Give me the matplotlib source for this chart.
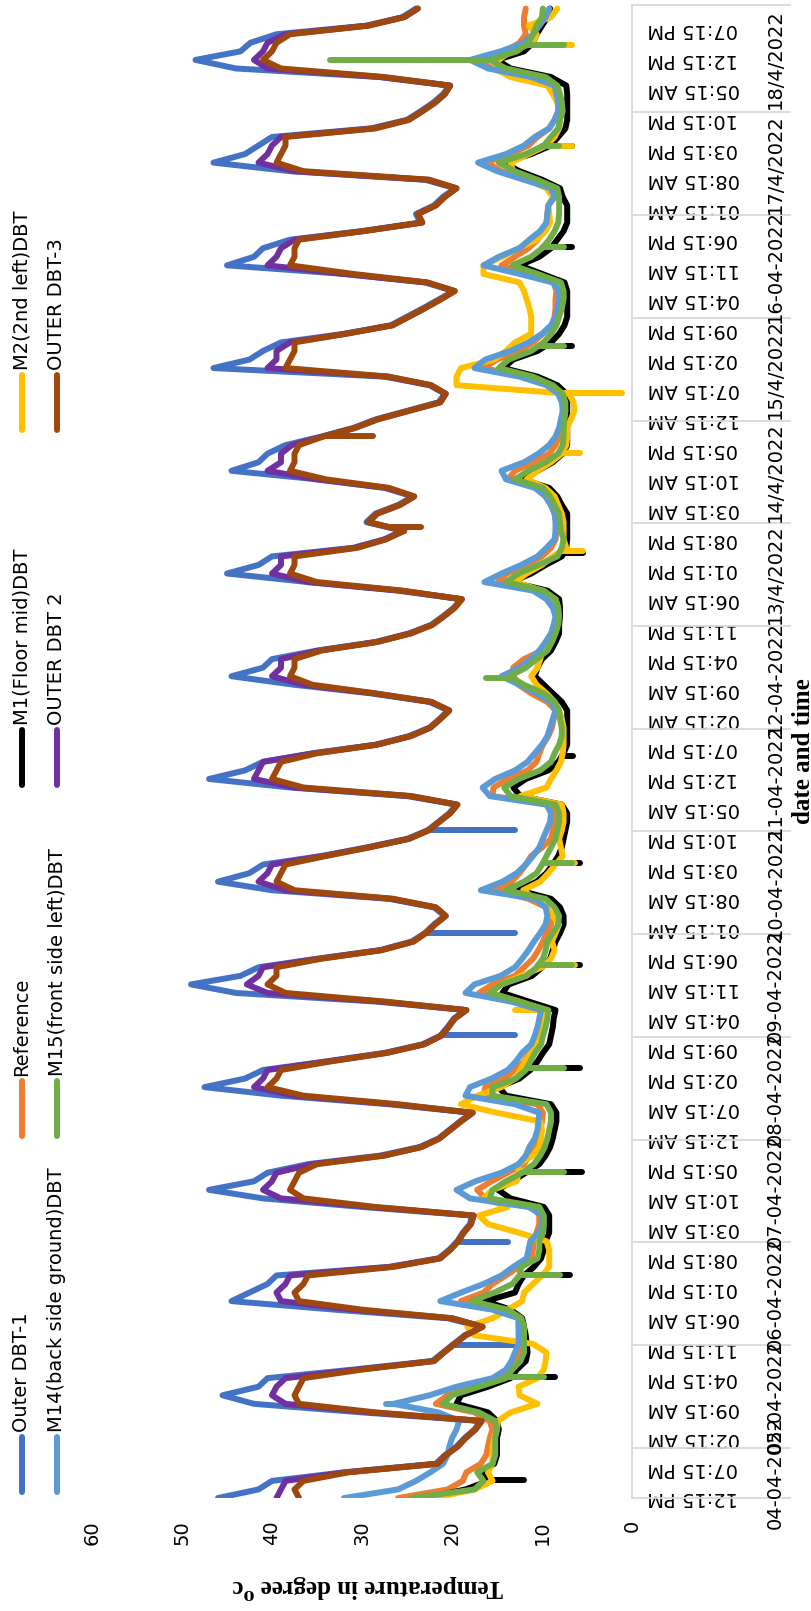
import numpy as np
import pandas as pd
import matplotlib
matplotlib.use('Agg')
from matplotlib import pyplot as plt
from matplotlib import transforms
from matplotlib.lines import Line2D

# readings every 2 hours from 04-04-2022 12:15 PM
times = pd.date_range('2022-04-04 12:15', periods=175, freq='2h')

outer_dbt_1 = [
    46.0, 41.5, 40.0, 32.0, 21.8, 20.8,
    19.5, 18.6, 17.5, 16.8, 30.0, 42.0, 45.5, 41.5, 40.5, 31.0, 22.2, 21.0,
    19.8, 18.6, 16.7, 20.5, 33.0, 44.5, 42.5, 40.5, 39.5, 27.0, 21.5, 20.3,
    19.4, 18.8, 18.0, 17.8, 30.0, 41.0, 47.0, 42.0, 40.5, 36.0, 28.0, 23.6,
    21.5, 20.3, 19.1, 17.8, 27.0, 39.0, 47.5, 43.0, 41.0, 34.0, 27.5, 23.3,
    21.3, 20.5, 19.8, 18.5, 28.5, 44.0, 49.0, 43.5, 41.5, 35.0, 28.0, 24.5,
    23.0, 22.0, 20.8, 22.0, 27.0, 40.0, 46.0, 42.5, 41.0, 34.5, 29.5, 25.0,
    22.7, 21.5, 20.3, 19.5, 25.0, 38.0, 47.0, 43.0, 41.0, 35.5, 28.5, 24.8,
    22.5, 21.4, 20.4, 22.5, 29.0, 37.5, 44.5, 41.0, 40.0, 35.0, 28.5, 24.8,
    22.3, 21.0, 19.8, 19.0, 26.0, 36.0, 45.0, 41.5, 40.0, 31.0, 27.5, 25.5,
    29.5, 28.5, 26.0, 24.3, 27.5, 35.0, 44.5, 41.5, 40.5, 38.5, 34.5, 31.0,
    28.5, 25.0, 21.5, 20.8, 22.5, 27.5, 46.5, 42.5, 41.0, 39.0, 32.0, 26.8,
    25.0, 23.2, 21.5, 19.8, 23.0, 32.0, 45.0, 42.0, 41.0, 38.0, 30.0, 23.5,
    24.0, 22.0, 21.0, 19.6, 23.0, 38.0, 46.5, 43.0, 41.5, 40.0, 29.0, 25.0,
    23.5, 22.1, 21.0, 20.3, 28.0, 44.0, 48.5, 43.5, 42.4, 39.5, 29.5, 25.5,
    24.0]

reference = [
    26.0, 20.5, 18.8, 18.4, 16.8, 16.2,
    16.0, 15.8, 15.5, 15.8, 17.5, 21.8, 20.5, 17.5, 14.5, 13.5, 12.8, 12.6,
    12.6, 12.5, 12.6, 12.6, 14.5, 19.0, 16.5, 15.5, 14.0, 12.6, 11.2, 11.0,
    11.0, 10.6, 10.3, 10.3, 11.0, 16.3, 17.2, 15.6, 13.8, 12.0, 11.4, 11.0,
    10.5, 10.2, 10.0, 9.9, 10.5, 16.5, 16.3, 14.2, 13.0, 12.0, 11.4, 10.8,
    10.4, 10.2, 10.0, 9.9, 12.5, 17.0, 15.5, 13.0, 12.0, 11.0, 10.4, 9.9,
    9.5, 9.0, 9.0, 9.5, 11.5, 15.3, 13.4, 12.5, 11.8, 11.2, 10.0, 9.0,
    8.8, 8.6, 8.6, 9.2, 15.5, 15.4, 13.8, 11.6, 10.6, 10.3, 9.9, 9.3,
    8.9, 8.7, 8.5, 9.4, 11.2, 12.6, 13.2, 13.2, 12.0, 10.0, 9.3, 8.8,
    8.5, 8.4, 8.6, 9.2, 10.5, 14.9, 13.9, 11.8, 10.0, 9.0, 8.5, 8.4,
    8.4, 8.6, 9.0, 9.6, 10.4, 13.8, 13.0, 11.0, 9.2, 8.5, 8.1, 7.9,
    7.8, 7.6, 7.7, 8.1, 9.4, 12.0, 16.5, 15.0, 12.5, 11.0, 9.9, 8.9,
    8.6, 8.5, 8.5, 8.4, 8.7, 11.8, 14.5, 13.0, 11.5, 10.5, 9.8, 9.5,
    9.4, 9.3, 8.6, 9.0, 11.5, 14.5, 16.2, 13.5, 11.5, 10.5, 9.2, 8.6,
    8.2, 8.2, 8.4, 8.7, 11.0, 15.5, 17.3, 14.0, 12.5, 11.8, 12.0, 12.0,
    11.8]

m1_floor_mid = [
    23.0, 18.5, 16.0, 16.8, 15.3, 15.0,
    15.0, 15.0, 14.8, 15.0, 16.0, 19.5, 19.0, 16.0, 13.5, 12.8, 11.8, 11.6,
    11.7, 11.8, 12.0, 12.2, 13.5, 16.3, 13.0, 12.6, 12.0, 10.9, 10.1, 9.8,
    9.6, 9.2, 9.2, 9.2, 9.8, 13.5, 14.9, 13.3, 11.8, 10.3, 9.6, 9.1,
    8.8, 8.6, 8.4, 8.4, 9.0, 14.0, 14.8, 12.5, 11.3, 10.5, 9.9, 9.2,
    9.0, 8.8, 8.7, 8.5, 11.5, 14.4, 13.7, 11.1, 10.0, 9.1, 8.8, 8.5,
    8.0, 7.6, 7.6, 8.0, 9.0, 12.6, 10.6, 9.5, 8.8, 8.2, 7.8, 7.6,
    7.4, 7.2, 7.2, 7.8, 12.4, 13.2, 11.8, 9.3, 8.2, 7.6, 7.2, 7.2,
    7.2, 7.2, 7.2, 7.8, 8.8, 9.8, 10.8, 10.5, 10.0, 9.0, 8.5, 8.1,
    8.1, 8.0, 8.0, 8.1, 9.4, 13.4, 11.2, 9.6, 7.8, 7.3, 7.2, 7.2,
    7.2, 7.2, 7.8, 8.3, 9.2, 12.2, 10.5, 8.8, 7.7, 7.2, 7.2, 7.2,
    7.2, 7.2, 7.2, 7.3, 8.3, 10.5, 14.3, 13.2, 10.5, 9.0, 8.1, 7.5,
    7.2, 7.2, 7.2, 7.2, 7.5, 10.0, 12.5, 10.3, 9.0, 8.3, 7.6, 7.2,
    7.2, 7.2, 7.7, 8.0, 10.0, 12.5, 14.3, 11.2, 9.0, 8.2, 7.4, 7.2,
    7.2, 7.2, 7.2, 7.3, 9.0, 13.5, 15.0, 12.0, 11.0, 10.6, 10.0, 9.4,
    9.1]

m2_2nd_left = [
    22.0, 17.5, 15.5, 16.0, 15.5, 15.5,
    15.5, 15.3, 15.0, 14.9, 13.5, 10.5, 12.5, 12.6, 10.5, 9.8, 9.6, 9.5,
    11.0, 17.5, 18.3, 15.5, 13.8, 12.2, 12.0, 11.0, 10.0, 9.2, 9.2, 9.2,
    9.5, 12.6, 16.0, 17.0, 13.8, 16.5, 15.5, 12.8, 12.6, 12.6, 11.0, 10.3,
    10.1, 10.0, 10.2, 15.0, 19.0, 17.2, 14.5, 13.0, 12.4, 11.9, 11.2, 10.5,
    10.3, 10.0, 9.9, 9.8, 12.5, 15.8, 14.5, 12.3, 10.0, 9.0, 8.6, 8.9,
    8.5, 8.1, 8.8, 9.5, 10.8, 12.1, 10.2, 9.3, 8.5, 7.7, 7.9, 8.1,
    7.8, 7.6, 7.6, 7.8, 12.4, 9.5, 9.0, 8.4, 7.9, 7.7, 7.6, 7.6,
    7.6, 7.8, 8.1, 8.6, 9.5, 10.6, 11.2, 10.5, 10.2, 9.9, 9.3, 8.7,
    8.3, 8.2, 8.2, 8.5, 10.0, 13.0, 11.7, 10.0, 8.8, 7.3, 7.6, 7.6,
    7.6, 7.8, 8.2, 8.6, 9.6, 11.7, 10.5, 9.0, 7.8, 7.3, 7.2, 7.2,
    6.8, 6.4, 6.5, 7.0, 19.5, 19.5, 19.0, 15.3, 14.0, 13.0, 11.2, 11.2,
    11.2, 11.4, 11.7, 12.0, 12.5, 16.5, 16.5, 14.4, 12.6, 10.6, 9.6, 9.1,
    9.2, 9.3, 8.8, 9.5, 11.5, 13.2, 13.5, 11.5, 9.5, 8.6, 8.1, 8.0,
    8.0, 8.3, 8.8, 9.4, 13.5, 15.3, 14.8, 13.5, 11.0, 10.6, 11.5, 9.0,
    8.3]

m14_back_side = [
    32.0, 26.0, 24.0, 22.4, 21.0, 20.5,
    20.3, 20.0, 19.5, 19.2, 21.5, 26.5, 22.5, 19.5, 15.5, 14.0, 13.4, 13.0,
    12.6, 12.6, 12.6, 12.6, 15.5, 21.3, 19.0, 16.5, 14.5, 13.2, 11.7, 11.5,
    11.3, 10.4, 10.0, 9.9, 11.5, 18.0, 19.5, 17.4, 14.5, 12.6, 11.8, 11.4,
    10.8, 10.5, 10.4, 10.3, 13.0, 18.5, 18.0, 15.6, 13.8, 12.9, 12.2, 11.2,
    10.8, 10.5, 10.3, 10.1, 13.5, 18.5, 17.5, 14.6, 13.0, 12.2, 11.5, 10.9,
    10.2, 9.6, 9.4, 9.6, 10.8, 16.8, 14.4, 12.8, 11.8, 11.0, 10.3, 9.9,
    9.5, 9.1, 9.0, 9.5, 15.8, 16.6, 15.2, 13.0, 11.6, 10.8, 10.0, 9.4,
    9.1, 8.8, 8.5, 9.0, 10.6, 12.5, 14.5, 12.5, 11.3, 10.3, 9.6, 9.0,
    8.7, 8.5, 8.8, 9.5, 11.0, 16.4, 14.5, 12.3, 10.5, 9.5, 8.6, 8.5,
    8.5, 8.6, 9.0, 9.6, 10.8, 14.0, 14.5, 12.0, 10.4, 9.2, 8.5, 8.1,
    7.9, 7.7, 7.8, 8.2, 9.5, 12.5, 17.5, 16.3, 13.5, 11.5, 10.0, 9.0,
    8.5, 8.3, 8.1, 8.1, 8.8, 12.5, 16.5, 14.8, 12.5, 11.4, 10.2, 9.5,
    9.4, 9.3, 8.6, 9.0, 12.0, 15.0, 17.1, 14.0, 12.0, 10.8, 9.2, 8.6,
    8.2, 8.2, 8.4, 8.6, 11.2, 16.0, 18.0, 14.6, 12.0, 11.0, 10.3, 9.6,
    9.2]

m15_front_side = [
    24.5, 17.5, 16.5, 17.2, 15.5, 15.2,
    15.2, 15.2, 15.0, 15.2, 17.0, 21.0, 20.0, 17.0, 14.0, 13.3, 12.4, 12.0,
    12.0, 12.0, 12.0, 12.3, 13.8, 17.8, 15.3, 13.3, 12.5, 12.3, 10.5, 10.3,
    10.3, 9.9, 9.8, 9.8, 10.3, 15.8, 15.5, 14.0, 12.2, 10.9, 10.2, 9.7,
    9.4, 9.2, 9.0, 9.0, 9.5, 15.5, 15.5, 12.9, 11.8, 11.3, 10.8, 10.1,
    9.9, 9.6, 9.4, 9.3, 12.5, 15.8, 14.5, 11.7, 10.6, 9.9, 9.6, 9.4,
    8.8, 8.2, 8.1, 8.6, 9.6, 14.0, 12.0, 10.6, 10.0, 9.5, 9.0, 8.5,
    8.3, 8.1, 8.1, 8.5, 13.5, 14.2, 12.6, 10.2, 9.0, 8.6, 8.1, 7.8,
    7.8, 8.0, 8.1, 8.6, 9.8, 12.0, 13.6, 11.8, 10.6, 9.4, 8.9, 8.5,
    8.2, 8.1, 8.2, 8.5, 9.8, 14.0, 12.6, 10.4, 8.3, 7.8, 7.6, 7.9,
    8.0, 8.1, 8.6, 9.1, 9.9, 13.0, 11.5, 9.6, 8.2, 7.7, 7.6, 7.6,
    7.5, 7.4, 7.4, 7.7, 8.8, 11.0, 14.8, 13.7, 11.2, 9.8, 9.0, 8.4,
    8.1, 7.8, 7.6, 7.6, 7.9, 10.5, 13.3, 11.2, 10.0, 9.2, 8.6, 8.2,
    8.1, 8.1, 8.1, 8.3, 10.5, 13.0, 14.8, 11.8, 9.8, 9.0, 8.2, 8.0,
    7.7, 7.8, 8.0, 8.3, 9.6, 14.0, 15.8, 12.8, 11.5, 11.0, 10.6, 10.0,
    9.9]

outer_dbt_2 = [
    39.5, 39.0, 38.5, 31.8, 21.6, 20.7,
    19.4, 18.5, 17.4, 16.7, 29.0, 38.5, 40.0, 39.5, 38.5, 30.5, 22.0, 20.9,
    19.7, 18.5, 16.6, 20.0, 31.0, 39.0, 39.5, 38.5, 38.0, 26.8, 21.3, 20.2,
    19.3, 18.7, 17.9, 17.6, 29.0, 39.0, 41.0, 40.0, 39.5, 35.5, 27.6, 23.4,
    21.4, 20.2, 19.0, 17.7, 26.5, 37.5, 42.0, 41.0, 40.5, 33.8, 27.3, 23.1,
    21.2, 20.4, 19.7, 18.4, 28.0, 40.5, 42.8, 41.5, 41.0, 34.8, 27.9, 24.3,
    22.9, 21.9, 20.7, 21.8, 26.8, 38.5, 41.5, 40.5, 40.0, 34.3, 29.3, 24.8,
    22.6, 21.4, 20.2, 19.4, 24.7, 37.5, 42.0, 41.5, 41.0, 35.3, 28.4, 24.6,
    22.4, 21.3, 20.3, 22.3, 28.7, 36.5, 40.0, 39.0, 39.0, 34.8, 28.4, 24.6,
    22.2, 20.9, 19.7, 18.9, 25.7, 36.0, 40.0, 39.0, 39.0, 30.8, 27.4, 25.3,
    29.3, 28.3, 25.8, 24.2, 27.2, 35.0, 40.5, 39.0, 39.0, 37.8, 34.4, 30.8,
    28.3, 24.8, 21.3, 20.7, 22.4, 27.2, 40.5, 39.5, 39.5, 38.0, 31.9, 26.6,
    24.8, 23.0, 21.3, 19.7, 22.8, 32.0, 40.5, 39.5, 39.0, 37.5, 29.9, 23.3,
    23.8, 21.8, 20.8, 19.5, 22.7, 37.5, 41.5, 40.5, 40.0, 39.0, 28.7, 24.8,
    23.3, 21.9, 20.8, 20.2, 28.0, 40.5, 42.0, 41.0, 40.5, 38.5, 29.4, 25.3,
    23.8]

outer_dbt_3 = [
    37.0, 37.5, 36.5, 31.5, 21.6, 20.7,
    19.4, 18.5, 17.4, 16.7, 28.5, 37.0, 37.5, 37.0, 36.5, 30.0, 22.0, 20.9,
    19.7, 18.5, 16.6, 20.0, 30.0, 37.0, 37.5, 36.5, 36.0, 26.5, 21.3, 20.2,
    19.3, 18.7, 17.9, 17.6, 28.5, 36.5, 38.0, 37.5, 37.0, 35.0, 27.5, 23.4,
    21.4, 20.2, 19.0, 17.7, 26.0, 36.5, 40.5, 39.5, 39.0, 33.5, 27.2, 23.1,
    21.2, 20.4, 19.7, 18.4, 27.5, 38.5, 40.5, 39.5, 39.5, 34.5, 27.8, 24.3,
    22.9, 21.9, 20.7, 21.8, 26.5, 37.5, 39.5, 39.0, 38.5, 34.0, 29.2, 24.8,
    22.6, 21.4, 20.2, 19.4, 24.5, 36.5, 40.0, 39.5, 39.0, 35.0, 28.3, 24.6,
    22.4, 21.3, 20.3, 22.3, 28.5, 35.5, 38.0, 37.5, 37.5, 34.5, 28.3, 24.6,
    22.2, 20.9, 19.7, 18.9, 25.5, 35.0, 38.0, 37.5, 37.5, 30.5, 27.3, 25.3,
    29.3, 28.3, 25.8, 24.2, 27.0, 34.0, 38.0, 37.5, 37.5, 37.0, 34.3, 30.8,
    28.3, 24.8, 21.3, 20.7, 22.3, 27.0, 38.5, 38.0, 37.5, 37.5, 31.8, 26.6,
    24.8, 23.0, 21.3, 19.7, 22.7, 31.0, 38.0, 37.5, 37.5, 37.0, 29.8, 23.3,
    23.8, 21.8, 20.8, 19.5, 22.5, 36.5, 39.5, 39.0, 38.5, 38.5, 28.5, 24.8,
    23.3, 21.9, 20.8, 20.2, 27.5, 39.0, 41.0, 40.0, 39.5, 38.0, 29.3, 25.3,
    23.8]

# short one-reading spikes (hours after 04-04-2022 00:00, value)
outer1_spike_t = [48.0, 72.1, 120.4, 144.3, 168.3]
outer1_spike_v = [12.6, 13.8, 13.0, 13.0, 13.0]
outer3_spike_t = [239.2, 260.3]
outer3_spike_v = [23.4, 28.8]
m14_spike_t = [34.3]
m14_spike_v = [27.3]
m15_spike_t = [40.6, 64.4, 88.5, 112.6, 136.8, 160.5, 203.9, 281.3, 304.6, 328.1, 348.3, 351.8]
m15_spike_v = [9.8, 8.0, 7.5, 7.6, 6.7, 6.7, 16.2, 7.6, 7.6, 8.1, 33.6, 7.6]
m1_spike_t = [16.5, 40.6, 64.4, 88.5, 112.6, 136.8, 160.5, 185.5, 233.0, 281.3, 304.6, 328.1, 351.8]
m1_spike_v = [12.0, 8.6, 6.9, 5.5, 5.8, 5.8, 5.8, 6.5, 5.4, 6.7, 6.7, 6.7, 7.6]
m2_spike_t = [126.3, 136.8, 160.5, 233.6, 256.4, 270.4, 328.1, 351.8]
m2_spike_v = [13.0, 6.3, 6.3, 5.4, 5.8, 1.1, 6.7, 6.7]

tick_times = pd.date_range('2022-04-04 12:15', '2022-04-18 19:15', freq='7h')
date_labels = ['04-04-2022', '05-04-2022', '06-04-2022', '07-04-2022', '08-04-2022',
               '09-04-2022', '10-04-2022', '11-04-2022', '12-04-2022', '13/4/2022',
               '14/4/2022', '15/4/2022', '16-04-2022', '17/4/2022', '18/4/2022']

t0 = pd.Timestamp('2022-04-04')
hours = ((times - t0) / pd.Timedelta(hours=1)).to_numpy()
tick_hours = ((tick_times - t0) / pd.Timedelta(hours=1)).to_numpy()
t_end = hours[-1] + 0.83

series = [
    ('Outer DBT-1', outer_dbt_1, '#4472C4', outer1_spike_t, outer1_spike_v),
    ('Reference', reference, '#ED7D31', [], []),
    ('M1(Floor mid)DBT', m1_floor_mid, '#000000', m1_spike_t, m1_spike_v),
    ('M2(2nd left)DBT', m2_2nd_left, '#FFC000', m2_spike_t, m2_spike_v),
    ('M14(back side ground)DBT', m14_back_side, '#5B9BD5', m14_spike_t, m14_spike_v),
    ('M15(front side left)DBT', m15_front_side, '#70AD47', m15_spike_t, m15_spike_v),
    ('OUTER DBT 2', outer_dbt_2, '#7030A0', [], []),
    ('OUTER DBT-3', outer_dbt_3, '#9E480E', outer3_spike_t, outer3_spike_v),
]

W, H = 812, 1611
fig = plt.figure(figsize=(W / 100, H / 100), dpi=100)
ax = fig.add_axes([92 / W, 113 / H, 540 / W, 1493 / H])

lw = 4.3
for i, (name, vals, col, st, sv) in enumerate(series):
    vals = np.array(vals)
    ax.plot(vals, hours, color=col, lw=lw, solid_capstyle='round',
            solid_joinstyle='round', zorder=2 + i)
    for t, v in zip(st, sv):
        base = np.interp(t, hours, vals)
        ax.plot([base, v], [t, t], color=col, lw=lw, solid_capstyle='round', zorder=2 + i)

ax.set_xlim(60, 0)
ax.set_ylim(hours[0], t_end)
for s in ax.spines.values():
    s.set_visible(False)

ax.set_xticks(range(0, 61, 10))
ax.tick_params(axis='x', length=0, pad=16, labelsize=14, labelrotation=90)

ax.yaxis.tick_right()
ax.set_yticks(tick_hours)
ax.set_yticklabels(tick_times.strftime('%I:%M %p'))
ax.tick_params(axis='y', length=0, pad=11, labelsize=14, labelrotation=180)
for lab in ax.get_yticklabels():
    lab.set_va('center')

# category axis line and the day boxes
grey = '#D9D9D9'
ax.plot([0, 0], [hours[0], t_end], color=grey, lw=1.3, clip_on=False, zorder=1)
trans = transforms.blended_transform_factory(ax.transAxes, ax.transData)
midnights = ((pd.date_range('2022-04-05', '2022-04-18', freq='D') - t0) / pd.Timedelta(hours=1)).to_numpy()
edges = np.concatenate([[hours[0]], midnights, [t_end]])
for e in edges:
    ax.plot([1.0, 1.293], [e, e], color=grey, lw=1.3, transform=trans, clip_on=False)
for lab, a, b in zip(date_labels, edges[:-1], edges[1:]):
    ax.text(1.265, (a + b) / 2, lab, transform=trans, rotation=90, ha='center',
            va='center', fontsize=14, clip_on=False)

serif = ['Liberation Serif', 'DejaVu Serif']
ax.text(1.317, 0.5, 'date and time', transform=ax.transAxes, rotation=90,
        ha='center', va='center', fontsize=18, fontweight='bold', family=serif)
fig.text(368 / W, 1 - 1587 / H, 'Temperature in degree \u2070c', rotation=180,
         ha='center', va='center', fontsize=18, fontweight='bold', family=serif)

# legend, drawn turned like the rest of the chart
legend_cols = [22, 57]
legend_rows = [1492, 1136, 785, 430]
for i, (name, vals, col, st, sv) in enumerate(series):
    x = legend_cols[i // 4]
    yb = legend_rows[i % 4]
    fig.add_artist(Line2D([x / W, x / W], [1 - yb / H, 1 - (yb - 55) / H],
                          color=col, lw=lw, solid_capstyle='round'))
    fig.text(x / W, 1 - (yb - 60) / H, name, rotation=90, ha='center', va='bottom',
             fontsize=14)

fig.savefig('out.png', dpi=100)
